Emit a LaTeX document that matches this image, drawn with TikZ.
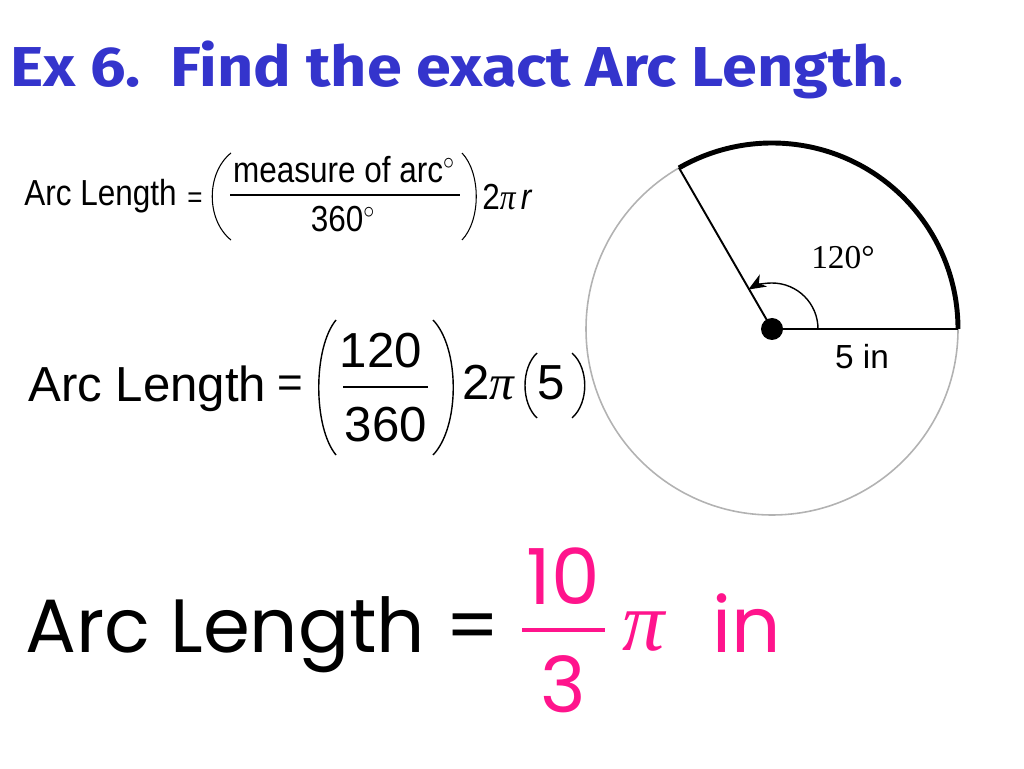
\documentclass[tikz,border=0pt]{standalone}
\usepackage{graphicx}
\usepackage{fontspec}
\setmainfont{Liberation Sans}
\newfontfamily\titlefont{Fira Sans}
\newfontfamily\roundfont{Poppins}
\newfontfamily\timesfont{Liberation Serif}
\usetikzlibrary{arrows.meta}
\definecolor{titleblue}{RGB}{52,52,204}
\definecolor{answerpink}{RGB}{255,20,140}
\newcommand{\piit}{{\timesfont\itshape π}}
\newcommand{\narrow}[1]{\scalebox{0.87}[1]{#1}}

\begin{document}
\begin{tikzpicture}[x=0.02cm, y=0.02cm]
    \tikzstyle{rim}=[draw=gray!60, line width=0.9pt]
    \tikzstyle{radius_line}=[line width=1.1pt]
    \tikzstyle{arc_mark}=[line width=2.8pt]
    \tikzstyle{eq_text}=[inner sep=0pt, anchor=base west]
    \tikzstyle{mid_text}=[inner sep=0pt, anchor=base]
    \tikzstyle{small_font}=[font=\fontsize{20.6}{24}\selectfont]
    \tikzstyle{big_font}=[font=\fontsize{28}{34}\selectfont]
    \tikzstyle{pink_text}=[text=answerpink, font=\roundfont\fontsize{44}{50}\selectfont]
    \useasboundingbox (0,0) rectangle (1024,768);

    % --- title ---
    \node[eq_text, text=titleblue, font=\titlefont\bfseries\fontsize{32}{38}\selectfont] (title) at (10,681)
      {\scalebox{1.12}[1]{Ex 6.\ \ Find the exact Arc Length.}};

    % --- general formula ---
    \node[eq_text, small_font] (lhs1) at (24,562) {\narrow{Arc Length}};
    \node[inner sep=0pt, font=\fontsize{17}{20}\selectfont] (eq1) at (195,568) {\narrow{=}};
    \node[mid_text, small_font] (num1) at (344,585) {\narrow{measure of arc$^{\circ}$}};
    \draw[line width=0.6pt] (230,573) -- (460,573);
    \node[mid_text, small_font] (den1) at (343,536) {\narrow{360$^{\circ}$}};
    \draw[line width=0.6pt] (231,615) .. controls (206,595) and (206,548) .. (231,528);
    \draw[line width=0.6pt] (462,615) .. controls (481,595) and (481,548) .. (462,528);
    \node[eq_text, small_font] (rhs1) at (482,558) {\narrow{2\piit\,\itshape r}};

    % --- values put in ---
    \node[eq_text, big_font] (lhs2) at (28,366) {Arc Length};
    \node[inner sep=0pt, font=\fontsize{25}{30}\selectfont] (eq2) at (290,381) {=};
    \node[mid_text, big_font] (num2) at (381,400) {120};
    \draw[line width=0.7pt] (343,381) -- (428,381);
    \node[mid_text, big_font] (den2) at (386,326) {360};
    \draw[line width=0.8pt] (336,448) .. controls (313,420) and (313,341) .. (336,313);
    \draw[line width=0.8pt] (433,448) .. controls (460,420) and (460,341) .. (433,313);
    \node[eq_text, big_font] (rhs2) at (462,368) {2\piit};
    \draw[line width=0.8pt] (537,415) .. controls (521,400) and (521,365) .. (537,350);
    \node[mid_text, big_font] (five) at (551,368) {5};
    \draw[line width=0.8pt] (572,415) .. controls (589,400) and (589,365) .. (572,350);

    % --- answer ---
    \node[eq_text, font=\roundfont\fontsize{43}{50}\selectfont] (answer) at (25,116) {Arc Length =};
    \node[pink_text] (num) at (563,192) {10};
    \node[pink_text] (den) at (563,84) {3};
    \draw[answerpink, line width=2.2pt] (522,138) -- (605,138);
    \node[eq_text, text=answerpink, font=\timesfont\itshape\fontsize{48}{54}\selectfont] (pi) at (622,118) {π};
    \node[eq_text, pink_text] (unit) at (712,116) {in};

    % --- circle ---
    \coordinate (O) at (772,439);
    \path (O) ++(0:186) coordinate (A);
    \path (O) ++(120:186) coordinate (B);
    \draw[rim] (O) circle[radius=186];
    \draw[arc_mark] (A) arc[start angle=0, end angle=120, radius=186];
    \draw[radius_line] (O) -- (A);
    \draw[radius_line] (O) -- (B);
    \draw[line width=0.8pt, -{Stealth[length=10pt, width=8pt, inset=3pt]}] (O) ++(0:46) arc[start angle=0, end angle=121, radius=46];
    \fill (O) circle[radius=11];
    \node[font=\timesfont\fontsize{19}{22}\selectfont] (angle_label) at (843,510) {120°};
    \node[font=\fontsize{19}{22}\selectfont] (radius_label) at (862,411) {5 in};
  \end{tikzpicture}
\end{document}
